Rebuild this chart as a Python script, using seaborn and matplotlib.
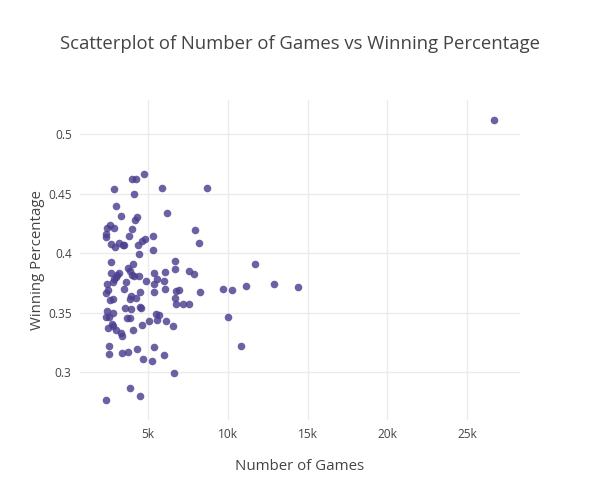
import pandas as pd
import seaborn as sns
import matplotlib.pyplot as plt
from matplotlib.ticker import FuncFormatter, FixedLocator

# Values
games = [4733, 3961, 4231, 2850, 5844, 8669, 4124, 2994, 3270, 6158,
         4312, 4187, 2599, 2392, 2881, 3961, 7953, 2329, 2329, 3810,
         4796, 4589, 5317, 2674, 3182, 3400, 2913, 3470, 4375, 8166,
         5329, 4400, 2693, 4036, 6710, 11719, 2661, 3164, 3057, 2956,
         2850, 2768, 2392, 3760, 3854, 3980, 4080, 4450, 5361, 6082,
         6679, 7570, 7859, 4840, 5580, 5348, 6007, 3603, 3490, 6070,
         5392, 4513, 3948, 3873, 4262, 2348, 2492, 2618, 2768, 6723,
         6930, 8248, 9692, 10275, 11148, 12906, 14387, 6698, 6760, 7212,
         7558, 3540, 3929, 4501, 4563, 2442, 2774, 5474, 5674, 2329,
         2536, 3685, 3835, 5066, 5536, 6095, 10024, 2724, 2806, 2461,
         2994, 4626, 6585, 4061, 3270, 3333, 2567, 10822, 3364, 3747,
         4294, 5342, 2548, 6007, 4689, 5216, 6597, 3873, 4494, 2348,
         26721]
win_pct = [0.467, 0.4622, 0.4624, 0.4538, 0.4551, 0.4546, 0.4496, 0.4395, 0.4316, 0.4336,
           0.4305, 0.4276, 0.4238, 0.4215, 0.4215, 0.4208, 0.4198, 0.4162, 0.4135, 0.4143,
           0.4118, 0.4099, 0.4145, 0.408, 0.4087, 0.4073, 0.405, 0.4067, 0.4072, 0.4084,
           0.403, 0.3992, 0.3929, 0.3912, 0.3933, 0.3906, 0.3832, 0.3837, 0.382, 0.3803,
           0.3781, 0.3761, 0.3742, 0.3876, 0.3847, 0.3818, 0.3809, 0.381, 0.3837, 0.3845,
           0.3868, 0.3851, 0.3823, 0.3769, 0.3781, 0.3746, 0.3771, 0.3755, 0.3704, 0.3696,
           0.3675, 0.3673, 0.3645, 0.3616, 0.3622, 0.3669, 0.3692, 0.3608, 0.3613, 0.3686,
           0.3692, 0.3675, 0.3696, 0.3689, 0.3725, 0.3742, 0.3717, 0.3622, 0.3576, 0.3574,
           0.3576, 0.3538, 0.3528, 0.3546, 0.3543, 0.3519, 0.3502, 0.3492, 0.3482, 0.3465,
           0.3462, 0.3452, 0.3455, 0.3433, 0.3441, 0.3427, 0.3462, 0.3406, 0.3385, 0.3371,
           0.3353, 0.3396, 0.3385, 0.3358, 0.3329, 0.3303, 0.3221, 0.3225, 0.316, 0.3171,
           0.3194, 0.3213, 0.3154, 0.3143, 0.3108, 0.3097, 0.2992, 0.2866, 0.2799, 0.2767,
           0.5123]
x_ticks = [5000, 10000, 15000, 20000, 25000]
y_ticks = [0.3, 0.35, 0.4, 0.45, 0.5]

df = pd.DataFrame({"Number of Games": games, "Winning Percentage": win_pct})

sns.set_style("white")
plt.rcParams["font.family"] = ["Open Sans", "DejaVu Sans"]
text_col = "#444444"

fig = plt.figure(figsize=(6, 5), dpi=100)
ax = fig.add_axes([80 / 600, 80 / 500, 440 / 600, 320 / 500])

sns.scatterplot(data=df, x="Number of Games", y="Winning Percentage", ax=ax,
                color="#4b3f8f", alpha=0.82, s=30, linewidth=0, zorder=3)

ax.set_xlim(716, 28335)
ax.set_ylim(0.2599, 0.5288)
ax.xaxis.set_major_locator(FixedLocator(x_ticks))
ax.yaxis.set_major_locator(FixedLocator(y_ticks))
ax.xaxis.set_major_formatter(FuncFormatter(lambda v, p: f"{int(round(v / 1000))}k"))
ax.yaxis.set_major_formatter(FuncFormatter(lambda v, p: f"{v:g}"))
ax.grid(True, color="#ebebeb", linewidth=1, zorder=0)
ax.set_axisbelow(True)
for sp in ax.spines.values():
    sp.set_visible(False)
ax.tick_params(length=0, labelsize=8.6, labelcolor=text_col, pad=6)

ax.set_xlabel("")
ax.set_ylabel("")
fig.text(0.5, 1 - 467 / 500, "Number of Games", ha="center", va="center",
         fontsize=10.8, color=text_col)
fig.text(38 / 600, 1 - 260 / 500, "Winning Percentage", ha="center", va="center",
         rotation=90, fontsize=10.8, color=text_col)
fig.text(0.5, 1 - 44 / 500, "Scatterplot of Number of Games vs Winning Percentage",
         ha="center", va="center", fontsize=13.3, color=text_col)

fig.savefig("out.png", dpi=100, facecolor="white")
